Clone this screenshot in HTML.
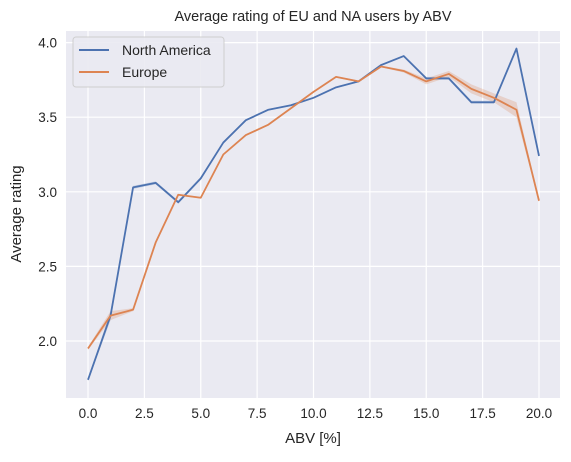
<!DOCTYPE html>
<html><head><meta charset="utf-8"><style>
body{margin:0;background:#fff;}
svg text{font-family:"Liberation Sans","DejaVu Sans",sans-serif;fill:#262626;}
</style></head><body>
<svg id="chart" width="571" height="457" xmlns="http://www.w3.org/2000/svg">
<rect x="66" y="31" width="494" height="367" fill="#eaeaf2"/>
<g id="grid"></g>
<g id="bands"></g>
<g id="lines"></g>
<g id="ticks"></g>
<text x="313" y="21" text-anchor="middle" font-size="14.5">Average rating of EU and NA users by ABV</text>
<text x="313" y="443" text-anchor="middle" font-size="15">ABV [%]</text>
<text x="21" y="214" text-anchor="middle" font-size="15" transform="rotate(-90 21 214)">Average rating</text>
<g>
<rect x="73" y="37" width="151" height="50" rx="3" fill="#eaeaf2" stroke="#cccccc" stroke-width="1" opacity="0.9"/>
<line x1="79" y1="50" x2="109" y2="50" stroke="#4c72b0" stroke-width="2"/>
<text x="122" y="55" font-size="14">North America</text>
<line x1="79" y1="72" x2="109" y2="72" stroke="#dd8452" stroke-width="2"/>
<text x="122" y="77" font-size="14">Europe</text>
</g>
</svg>
<script>
const abv=[0,1,2,3,4,5,6,7,8,9,10,11,12,13,14,15,16,17,18,19,20];
const naValues=[1.74,2.17,3.03,3.06,2.93,3.09,3.33,3.48,3.55,3.58,3.63,3.70,3.74,3.85,3.91,3.76,3.76,3.60,3.60,3.96,3.24];
const euValues=[1.95,2.17,2.21,2.66,2.98,2.96,3.25,3.38,3.45,3.56,3.67,3.77,3.74,3.84,3.81,3.74,3.79,3.69,3.63,3.55,2.94];
const naErr=[0.01,0.03,0.01,0.01,0.01,0.01,0.005,0.005,0.005,0.005,0.005,0.005,0.005,0.005,0.005,0.01,0.01,0.01,0.01,0.01,0.01];
const euErr=[0.01,0.03,0.01,0.01,0.005,0.005,0.005,0.005,0.005,0.005,0.005,0.005,0.005,0.005,0.01,0.02,0.02,0.03,0.03,0.05,0.01];
const xTicks=[0,2.5,5,7.5,10,12.5,15,17.5,20];
const yTicks=[2.0,2.5,3.0,3.5,4.0];
const X=v=>88+v*22.55;
const Y=v=>341-(v-2)*149.2;
const NS="http://www.w3.org/2000/svg";
function mk(tag,attrs,parent){const e=document.createElementNS(NS,tag);for(const k in attrs)e.setAttribute(k,attrs[k]);document.getElementById(parent).appendChild(e);return e;}
xTicks.forEach(t=>{
 const g=mk('line',{x1:X(t),x2:X(t),y1:31,y2:398,stroke:'#fff','stroke-width':1.2},'grid');
 
 
 const l=mk('text',{x:X(t),y:418,'text-anchor':'middle','font-size':13.5},'ticks');
 l.textContent=t.toFixed(1);
 
 
});
yTicks.forEach(t=>{
 const g=mk('line',{x1:66,x2:560,y1:Y(t),y2:Y(t),stroke:'#fff','stroke-width':1.2},'grid');
 
 
 const l=mk('text',{x:57,y:Y(t)+5,'text-anchor':'end','font-size':13.5},'ticks');
 l.textContent=t.toFixed(1);
 
 
});
function series(vals,err,color,name){
 const up=abv.map((a,i)=>X(a)+','+Y(vals[i]+err[i]));
 const dn=abv.map((a,i)=>X(a)+','+Y(vals[i]-err[i])).reverse();
 const b=mk('polygon',{points:up.concat(dn).join(' '),fill:color,opacity:0.25},'bands');
 
 
 const p=mk('polyline',{points:abv.map((a,i)=>X(a)+','+Y(vals[i])).join(' '),fill:'none',stroke:color,'stroke-width':1.8,'stroke-linejoin':'round'},'lines');
 
 
}
series(naValues,naErr,'#4c72b0','north-america');
series(euValues,euErr,'#dd8452','europe');
</script>
</body></html>
